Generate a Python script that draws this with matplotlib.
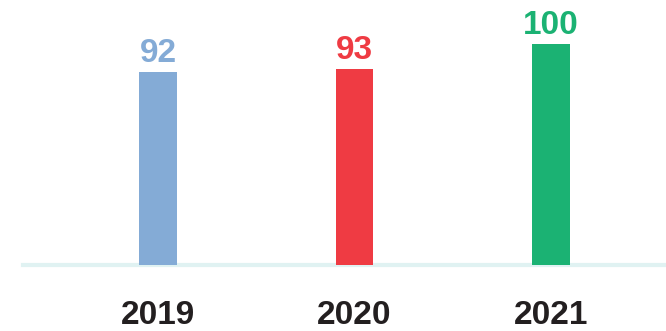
import matplotlib.pyplot as plt

years = ["2019", "2020", "2021"]
values = [92, 93, 100]
colors = ["#84abd6", "#ef3b43", "#1bb273"]

plt.rcParams['font.family'] = ['Liberation Sans', 'DejaVu Sans']

fig = plt.figure(figsize=(6.66, 3.31), dpi=100)
ax = fig.add_axes([23 / 666, (331 - 267) / 331, 643 / 666, 267 / 331])

ymin = 38
x = range(len(years))
ax.bar(x, [v - ymin for v in values], bottom=ymin, width=0.193, color=colors, zorder=2)

for i, v in enumerate(values):
    ax.annotate(str(v), (i, v), xytext=(0, 10), textcoords='offset pixels',
                ha='center', va='baseline', fontsize=24, fontweight='bold', color=colors[i])
    ax.annotate(years[i], (i, ymin), xytext=(0, -59), textcoords='offset pixels',
                ha='center', va='baseline', fontsize=24, fontweight='bold', color='#231f20')

ax.axhline(ymin, color='#e0f2f2', linewidth=3, zorder=1, clip_on=False)
ax.set_xlim(-0.687, 2.585)
ax.set_ylim(ymin - 0.5, 112.2)
ax.axis('off')

fig.savefig("out.png", dpi=100)
